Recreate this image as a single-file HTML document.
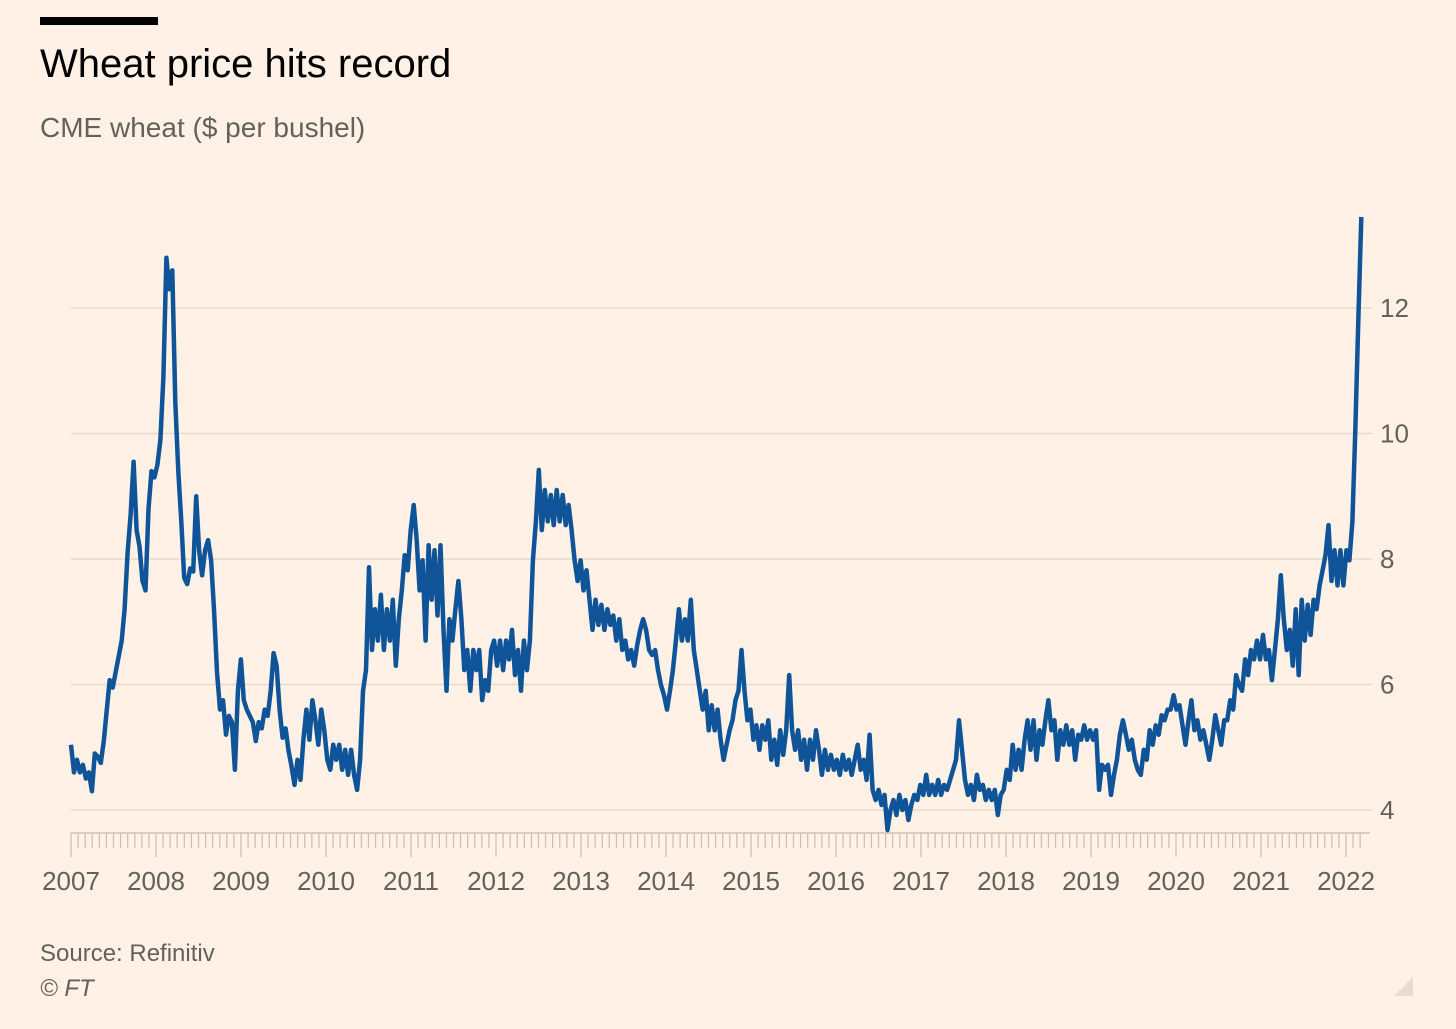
<!DOCTYPE html>
<html><head><meta charset="utf-8">
<style>
body{margin:0;background:#fff1e5;}
#wrap{position:relative;width:1456px;height:1029px;background:#fff1e5;font-family:"Liberation Sans",sans-serif;overflow:hidden}
.t{position:absolute;white-space:nowrap}
</style></head>
<body>
<div id="wrap">
<div class="t" style="left:40px;top:17px;width:118px;height:8px;background:#000"></div>
<div class="t" style="left:40px;top:42px;font-size:40px;color:#000">Wheat price hits record</div>
<div class="t" style="left:40px;top:112px;font-size:28px;color:#66605c">CME wheat ($ per bushel)</div>
<svg id="chart" width="1456" height="1029" style="position:absolute;left:0;top:0"></svg>
<div class="t" style="left:40px;top:940px;font-size:24px;color:#66605c">Source: Refinitiv</div>
<div class="t" style="left:40px;top:975px;font-size:24px;color:#66605c;font-style:italic">© FT</div>
<div class="t" style="left:1394px;top:977px;width:0;height:0;border-left:19px solid transparent;border-bottom:19px solid #e8dcd2"></div>
</div>
<script>
const yTicks=[4,6,8,10,12];
const xYears=[2007,2008,2009,2010,2011,2012,2013,2014,2015,2016,2017,2018,2019,2020,2021,2022];
const startYear=2007.0;
const endYear=2022.18;
const prices=[5.04,4.6,4.8,4.6,4.72,4.5,4.6,4.3,4.9,4.85,4.75,5.1,5.6,6.07,5.95,6.2,6.45,6.7,7.2,8.1,8.7,9.55,8.46,8.2,7.65,7.5,8.8,9.4,9.3,9.5,9.9,10.9,12.8,12.3,12.6,10.5,9.4,8.6,7.7,7.6,7.85,7.8,9.0,8.14,7.74,8.14,8.3,7.98,7.2,6.2,5.6,5.75,5.2,5.5,5.4,4.64,5.9,6.4,5.75,5.6,5.5,5.4,5.1,5.4,5.3,5.6,5.5,5.9,6.5,6.3,5.6,5.15,5.3,4.95,4.7,
4.4,4.8,4.48,5.12,5.6,5.12,5.75,5.43,5.04,5.6,5.27,4.8,4.64,5.04,4.8,5.04,4.64,4.96,4.56,4.96,4.56,4.32,4.8,5.9,6.23,7.87,6.55,7.2,6.7,7.43,6.55,7.2,6.7,7.35,6.3,7.04,7.5,8.06,7.82,8.46,8.86,8.3,7.5,7.98,6.7,8.22,7.35,8.14,7.1,8.22,6.87,5.9,7.04,6.7,7.2,7.65,7.04,6.23,6.55,5.9,6.55,6.23,6.55,5.75,6.07,5.9,6.55,6.7,6.3,6.7,6.23,6.7,6.4,6.87,6.15,6.55,5.9,6.7,6.23,6.7,7.98,8.6,9.42,8.46,9.1,8.6,9.02,8.54,9.1,8.6,9.02,8.54,8.86,8.46,7.98,7.65,7.98,7.5,7.82,7.35,6.87,7.35,6.95,7.27,6.87,7.2,6.95,7.1,6.7,7.04,6.55,6.7,6.4,6.55,6.3,6.63,6.87,7.04,6.87,6.55,6.47,6.55,6.23,5.99,5.83,5.6,5.9,6.23,6.7,7.2,6.7,7.04,6.7,7.35,6.55,6.23,5.9,5.6,5.9,5.27,5.67,5.27,5.6,5.12,4.8,5.04,5.27,5.43,5.75,5.9,6.55,5.9,5.43,5.6,5.12,5.35,4.96,5.35,5.12,5.43,4.8,5.12,4.72,5.27,4.88,5.27,6.15,5.27,4.96,5.27,4.8,5.12,4.64,5.12,4.8,5.27,4.96,4.56,4.96,4.64,4.88,4.64,4.8,4.56,4.88,4.64,4.8,4.56,4.8,5.04,4.64,4.8,4.48,5.2,4.32,4.16,4.32,4.08,4.24,3.68,4.0,4.16,3.92,4.24,4.0,4.16,3.84,4.08,4.24,4.16,4.4,4.24,4.56,4.24,4.4,4.24,4.48,4.24,4.4,4.32,4.48,4.64,4.8,5.43,4.96,4.48,4.24,4.4,4.16,4.56,4.32,4.4,4.16,4.32,4.16,4.32,3.92,4.24,4.32,4.64,4.48,5.04,4.64,4.96,4.64,5.12,5.43,4.96,5.43,4.8,5.27,5.04,5.43,5.75,5.27,5.43,4.8,5.27,5.04,5.35,5.04,5.27,4.8,5.2,5.12,5.35,5.12,5.27,5.12,5.27,4.32,4.72,4.64,4.72,4.24,4.56,4.8,5.2,5.43,5.2,4.96,5.12,4.8,4.64,4.56,4.96,4.8,5.27,5.04,5.35,5.2,5.51,5.43,5.6,5.6,5.83,5.6,5.67,5.35,5.04,5.43,5.75,5.27,5.43,5.12,5.27,5.04,4.8,5.12,5.51,5.27,5.04,5.43,5.43,5.75,5.6,6.15,5.99,5.9,6.4,6.15,6.55,6.4,6.7,6.4,6.79,6.4,6.55,6.07,6.55,7.04,7.74,7.04,6.55,6.87,6.3,7.2,6.15,7.35,6.7,7.27,6.79,7.35,7.2,7.58,7.82,8.06,8.54,7.65,8.14,7.58,8.14,7.58,8.14,7.98,8.6,10.05,11.8,13.45];

const svg=document.getElementById('chart');
const NS='http://www.w3.org/2000/svg';
const X0=71,X1=1346,Y4=810,PPU=62.75;
function xs(t){return X0+(t-2007)*(X1-X0)/15;}
function ys(v){return Y4-(v-4)*PPU;}
function mk(tag,attrs){const e=document.createElementNS(NS,tag);for(const k in attrs)e.setAttribute(k,attrs[k]);svg.appendChild(e);return e;}

yTicks.forEach(v=>{
  const g=mk('line',{x1:X0,x2:1372,y1:ys(v),y2:ys(v),stroke:'#e6d9ce','stroke-width':1.5});
  
  
  const t=mk('text',{x:1380,y:ys(v)+9,'font-size':26,fill:'#66605c','font-family':'Liberation Sans, sans-serif'});
  t.textContent=v;
  
  
});

const ax=mk('line',{x1:X0,x2:1370,y1:833,y2:833,stroke:'#ccc1b7','stroke-width':1.5});


for(let m=0;m<=15*12+2;m++){
  const t=2007+m/12;
  const yr=m%12===0;
  const tk=mk('line',{x1:xs(t),x2:xs(t),y1:833,y2:yr?857:848,stroke:'#ccc1b7','stroke-width':1.3});
  
  
}
xYears.forEach(y=>{
  const t=mk('text',{x:xs(y),y:890,'font-size':26,fill:'#66605c','text-anchor':'middle','font-family':'Liberation Sans, sans-serif'});
  t.textContent=y;
  
  
});

const n=prices.length;
let d='';
prices.forEach((v,i)=>{
  const t=startYear+i*(endYear-startYear)/(n-1);
  d+=(i?'L':'M')+xs(t).toFixed(1)+','+ys(v).toFixed(1);
});
const p=mk('path',{d:d,fill:'none',stroke:'#0f5499','stroke-width':4.5,'stroke-linejoin':'round'});


</script>
</body></html>
